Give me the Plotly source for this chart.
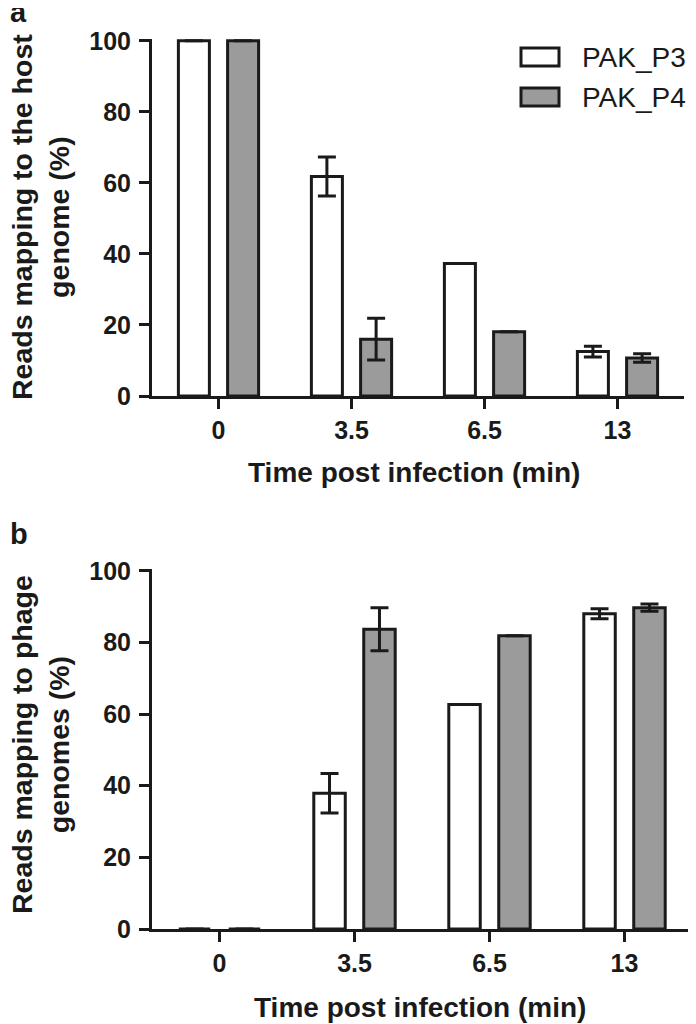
import plotly.graph_objects as go

# ---------------- data ----------------
categories = ["0", "3.5", "6.5", "13"]
series_names = ["PAK_P3", "PAK_P4"]

host_p3 = [100, 61.8, 37.3, 12.5]
host_p3_err = [None, 5.5, None, 1.5]
host_p4 = [100, 16.0, 18.1, 10.7]
host_p4_err = [None, 5.9, None, 1.2]

phage_p3 = [0, 37.9, 62.7, 88.0]
phage_p3_err = [None, 5.5, None, 1.4]
phage_p4 = [0, 83.7, 81.9, 89.7]
phage_p4_err = [None, 6.0, None, 1.0]

y_ticks = [0, 20, 40, 60, 80, 100]
x_title = "Time post infection (min)"
y_title_a = "Reads mapping to the host<br>genome (%)"
y_title_b = "Reads mapping to phage<br>genomes (%)"

# ---------------- style ----------------
W, H = 696, 1024
OFF = 8  # page body margin of the html page
FONT = "Liberation Sans, Arial, sans-serif"
INK = "#1a1a1a"
GREY = "#9b9b9b"
fills = ["white", GREY]

def px(x):
    return (x - OFF) / W

def py(y):
    return 1 - (y - OFF) / H

fig = go.Figure()

panels = [
    (host_p3, host_p3_err, host_p4, host_p4_err, "x", "y"),
    (phage_p3, phage_p3_err, phage_p4, phage_p4_err, "x2", "y2"),
]
for p3, p3e, p4, p4e, xa, ya in panels:
    for name, vals, errs, fill in [
        (series_names[0], p3, p3e, fills[0]),
        (series_names[1], p4, p4e, fills[1]),
    ]:
        fig.add_trace(go.Bar(
            x=categories, y=vals, name=name, xaxis=xa, yaxis=ya,
            marker=dict(color=fill, line=dict(color=INK, width=3)),
            error_y=dict(type="data", array=errs, visible=True,
                         color=INK, thickness=3, width=9),
            showlegend=False,
        ))

axis_common = dict(
    showline=True, linecolor=INK, linewidth=3,
    ticks="outside", ticklen=10, tickwidth=3, tickcolor=INK,
    showgrid=False, zeroline=False, automargin=False,
    tickfont=dict(family=FONT, size=25, color=INK, weight="bold"),
)

# pixel geometry (screen pixels) of the two plot areas
a_left, a_right, a_top, a_bot = 152, 684, 39, 396
b_left, b_right, b_top, b_bot = 152, 692, 569, 929

fig.update_layout(
    template="none",
    width=W, height=H, autosize=False,
    margin=dict(l=0, r=0, t=0, b=0, pad=0),
    paper_bgcolor="white", plot_bgcolor="white",
    barmode="group", bargap=0.26, bargroupgap=0.37,
    font=dict(family=FONT, color=INK),
    showlegend=False,
    xaxis=dict(domain=[px(a_left), px(a_right)], anchor="y",
               type="category", range=[-0.5, 3.5], ticklabelstandoff=0,
               **axis_common),
    yaxis=dict(domain=[py(a_bot), py(a_top)], anchor="x",
               range=[0, 100.5], tickvals=y_ticks, ticklabelstandoff=3,
               **axis_common),
    xaxis2=dict(domain=[px(b_left), px(b_right)], anchor="y2",
                type="category", range=[-0.5, 3.5], ticklabelstandoff=0,
                **axis_common),
    yaxis2=dict(domain=[py(b_bot), py(b_top)], anchor="x2",
                range=[0, 100.5], tickvals=y_ticks, ticklabelstandoff=3,
                **axis_common),
)

bold = dict(family=FONT, color=INK, weight="bold")
ann = []
# x titles
ann.append(dict(text=x_title, x=px(414), y=py(472), xref="paper", yref="paper",
                xanchor="center", yanchor="middle", showarrow=False,
                font=dict(size=28, **bold)))
ann.append(dict(text=x_title, x=px(420), y=py(1007), xref="paper", yref="paper",
                xanchor="center", yanchor="middle", showarrow=False,
                font=dict(size=28, **bold)))
# y titles
ann.append(dict(text=y_title_a, x=px(40), y=py(217), xref="paper", yref="paper",
                xanchor="center", yanchor="middle", showarrow=False,
                textangle=-90, font=dict(size=28.5, **bold)))
ann.append(dict(text=y_title_b, x=px(40), y=py(745), xref="paper", yref="paper",
                xanchor="center", yanchor="middle", showarrow=False,
                textangle=-90, font=dict(size=28.5, **bold)))
# panel letters
ann.append(dict(text="a", x=px(8), y=py(-6), xref="paper", yref="paper",
                xanchor="left", yanchor="top", showarrow=False,
                font=dict(size=29, **bold)))
ann.append(dict(text="b", x=px(8), y=py(516), xref="paper", yref="paper",
                xanchor="left", yanchor="top", showarrow=False,
                font=dict(size=29, **bold)))

# legend (drawn manually to match the large swatches)
shapes = []
leg_rows = [(series_names[0], fills[0], 57), (series_names[1], fills[1], 97)]
for name, fill, yc in leg_rows:
    shapes.append(dict(type="rect", xref="paper", yref="paper",
                       x0=px(521), x1=px(559), y0=py(yc - 9), y1=py(yc + 9),
                       fillcolor=fill, line=dict(color=INK, width=3)))
    ann.append(dict(text=name, x=px(580), y=py(yc), xref="paper", yref="paper",
                    xanchor="left", yanchor="middle", showarrow=False,
                    font=dict(family=FONT, size=28, color=INK)))

fig.update_layout(annotations=ann, shapes=shapes)

fig.write_html("out.html")
